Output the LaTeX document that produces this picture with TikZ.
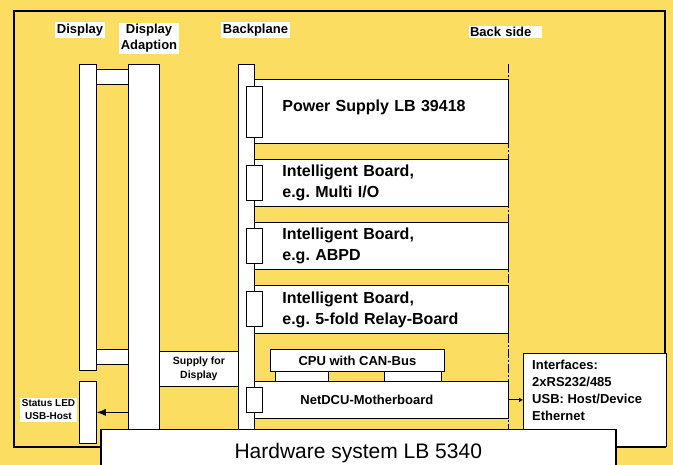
\documentclass[tikz,border=0pt]{standalone}
\usepackage{fontspec}
\setmainfont{Liberation Sans}
\usepackage{tikz}
\usetikzlibrary{arrows.meta}
\definecolor{bgyellow}{RGB}{251,221,98}
\frenchspacing

\begin{document}
\begin{tikzpicture}[
  x=1pt, y=-1pt,
  font=\bfseries,
  blk/.style={draw, fill=white, line width=0.8pt, inner sep=0pt, anchor=north west},
  board/.style={blk, minimum width=254pt, inner xsep=28pt, text width=198pt, align=left,
    font=\fontsize{16}{21}\selectfont\bfseries},
  plug/.style={blk, minimum width=16pt},
  head/.style={fill=white, inner sep=1.5pt, align=center, font=\fontsize{13}{16}\selectfont\bfseries},
  mid/.style={font=\fontsize{13}{16}\selectfont\bfseries},
  ar/.style={-{Latex[length=9pt,width=7pt]}, line width=0.8pt},
  sar/.style={-{Latex[length=4pt,width=5pt]}, line width=0.8pt}
]
\useasboundingbox (0,0) rectangle (673,465);
\clip (0,0) rectangle (673,465);
\fill[bgyellow] (0,0) rectangle (673,465);
\draw[line width=1.5pt] (14,11) rectangle (665,447);

% ---- headers ----------------------------------------------------------------
\node[head] (hdisp) at (80,30) {Display};
\node[head] (hadapt) at (149,38.5) {Display\\Adaption};
\node[head] (hback) at (255.5,30) {Backplane};
\node[head, text width=70pt, align=left] (hside) at (505,32) {Back side};

% ---- display side -----------------------------------------------------------
\node[blk, minimum width=32pt, minimum height=15pt] (ltop) at (96,69) {};
\node[blk, minimum width=32pt, minimum height=15pt] (lbot) at (96,349) {};
\node[blk, minimum width=17pt, minimum height=306pt] (disp) at (79,64) {};
\node[blk, minimum width=31pt, minimum height=385pt] (adapt) at (128,64) {};
\node[blk, minimum width=17pt, minimum height=62pt] (led) at (79,381) {};
\node[fill=white, inner sep=1.5pt, align=center, font=\fontsize{10}{13}\selectfont\bfseries]
  (hled) at (48.5,410) {Status LED\\USB-Host};
\node[blk, minimum width=79pt, minimum height=35pt, align=center,
  font=\fontsize{10.5}{14}\selectfont\bfseries] (supd) at (159,351) {Supply for\\Display};

% ---- backplane and boards ---------------------------------------------------
\node[blk, minimum width=16pt, minimum height=385pt] (bplane) at (238,64) {};
\node[board, minimum height=64pt] (psu) at (254,79) {Power Supply LB 39418\\[-10pt]\mbox{}};
\node[board, minimum height=47pt] (bmio) at (254,159) {Intelligent Board,\\e.g. Multi I/O};
\node[board, minimum height=47pt] (babpd) at (254,222) {Intelligent Board,\\e.g. ABPD};
\node[board, minimum height=48pt] (brelay) at (254,285) {Intelligent Board,\\e.g. 5-fold Relay-Board};
\node[plug, minimum height=51pt] (ppsu) at (246,86) {};
\node[plug, minimum height=35pt] (pmio) at (246,165) {};
\node[plug, minimum height=35pt] (pabpd) at (246,228) {};
\node[plug, minimum height=35pt] (prelay) at (246,291) {};

\node[blk, mid, minimum width=53pt, minimum height=11pt] (tab1) at (275,370) {};
\node[blk, mid, minimum width=57pt, minimum height=11pt] (tab2) at (384,370) {};
\node[blk, mid, minimum width=174pt, minimum height=22pt] (cpu) at (270,349) {CPU with CAN-Bus};
\node[blk, mid, minimum width=254pt, minimum height=37pt, inner xsep=46pt, text width=162pt,
  align=left] (netdcu) at (254,381) {NetDCU-Motherboard};
\node[plug, minimum height=25pt] (pnet) at (246,387) {};

% ---- back side --------------------------------------------------------------
\coordinate (bstop) at (508,64);
\coordinate (bsbot) at (508,429);
\draw[line width=1pt, dash pattern=on 9pt off 2pt on 2pt off 2pt] (bstop) -- (bsbot);
\node[blk, minimum width=143pt, minimum height=93pt] (ifc) at (523,353) {};
\node[anchor=north west, inner sep=0pt, align=left, font=\fontsize{13}{17}\selectfont\bfseries]
  (ifctext) at (532,360) {Interfaces:\\2xRS232/485\\USB: Host/Device\\Ethernet};

% ---- hardware system --------------------------------------------------------
\node[blk, line width=1.5pt, minimum width=515pt, minimum height=46pt,
  font=\fontsize{21}{25}\selectfont\mdseries] (hw) at (100,429) {Hardware system LB 5340};

% ---- arrows -----------------------------------------------------------------
\draw[ar] (adapt.west |- led.center) -- (led.east);
\draw[sar] (netdcu.east) -- (netdcu.east -| ifc.west);
\end{tikzpicture}
\end{document}
